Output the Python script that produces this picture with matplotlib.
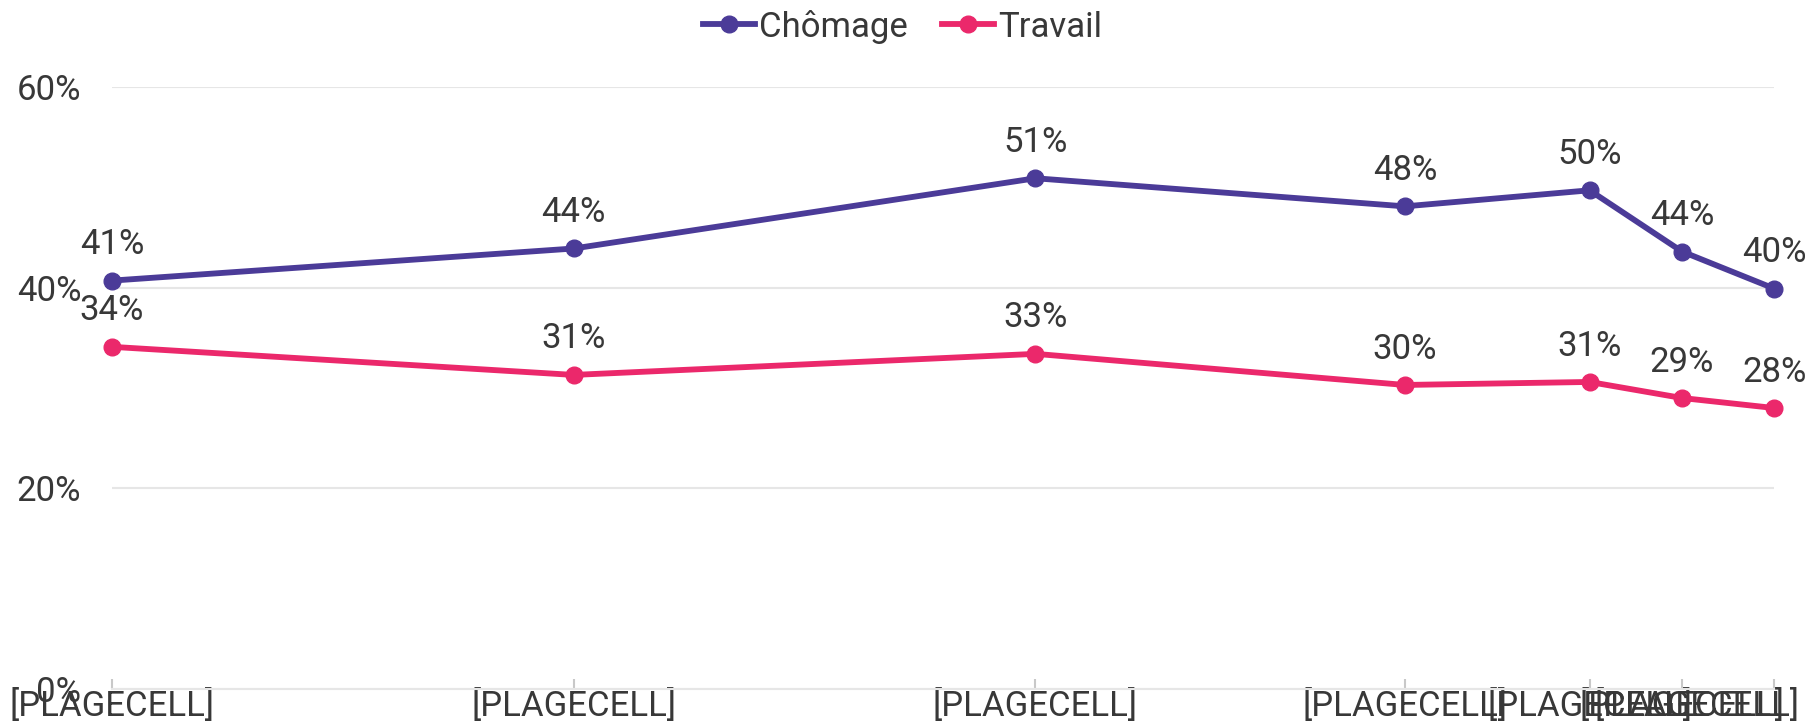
import matplotlib.pyplot as plt
from matplotlib.transforms import ScaledTranslation

plt.rcParams['font.family'] = ['Roboto', 'DejaVu Sans']

# x positions (time-like spacing) and labels
x_pos = [0, 5, 10, 14, 16, 17, 18]
x_labels = ['[PLAGECELL]'] * 7
chomage = [40.7, 43.9, 50.9, 48.1, 49.7, 43.6, 39.9]
travail = [34.1, 31.3, 33.4, 30.3, 30.6, 29.0, 28.0]
chomage_lbl = ['41%', '44%', '51%', '48%', '50%', '44%', '40%']
travail_lbl = ['34%', '31%', '33%', '30%', '31%', '29%', '28%']

PURPLE = '#4b3b98'
PINK = '#eb286b'
TXT = '#383838'
FS = 25

fig = plt.figure(figsize=(18.05, 7.21), dpi=100)
ax = fig.add_axes([0.062, 0.0444, 0.921, 0.835])

ax.plot(x_pos, chomage, color=PURPLE, lw=4.2, marker='o', ms=12,
        label='Chômage', clip_on=False, zorder=3)
ax.plot(x_pos, travail, color=PINK, lw=4.2, marker='o', ms=12,
        label='Travail', clip_on=False, zorder=3)

for xv, yv, s in zip(x_pos, chomage, chomage_lbl):
    ax.annotate(s, (xv, yv), xytext=(0, 14), textcoords='offset points',
                ha='center', va='bottom', fontsize=FS, color=TXT)
for xv, yv, s in zip(x_pos, travail, travail_lbl):
    ax.annotate(s, (xv, yv), xytext=(0, 14), textcoords='offset points',
                ha='center', va='bottom', fontsize=FS, color=TXT)

ax.set_xlim(x_pos[0], x_pos[-1])
ax.set_ylim(0, 60)
ax.set_yticks([0, 20, 40, 60])
ax.set_yticklabels(['0%', '20%', '40%', '60%'])
ax.set_xticks(x_pos)
ax.set_xticklabels(x_labels)

ax.grid(axis='y', color='#e6e6e6', lw=1.5)
ax.set_axisbelow(True)
for side in ['top', 'right', 'left']:
    ax.spines[side].set_visible(False)
ax.spines['bottom'].set_color('#e6e6e6')
ax.spines['bottom'].set_linewidth(1.5)

ax.tick_params(axis='y', length=0, pad=22, labelsize=FS, labelcolor=TXT)
ax.tick_params(axis='x', direction='in', length=7, width=1.5, color='#c8c8c8',
               pad=0, labelsize=FS, labelcolor=TXT)

# keep the last x label inside the figure
last = ax.get_xticklabels()[-1]
last.set_ha('right')
last.set_transform(last.get_transform() + ScaledTranslation(0.25, 0, fig.dpi_scale_trans))

fig.legend(loc='upper center', bbox_to_anchor=(0.5, 1.03), ncol=2,
           frameon=False, fontsize=FS, handlelength=1.5,
           handletextpad=0.1, columnspacing=1.0, labelcolor=TXT)

fig.savefig('out.png', dpi=100)
